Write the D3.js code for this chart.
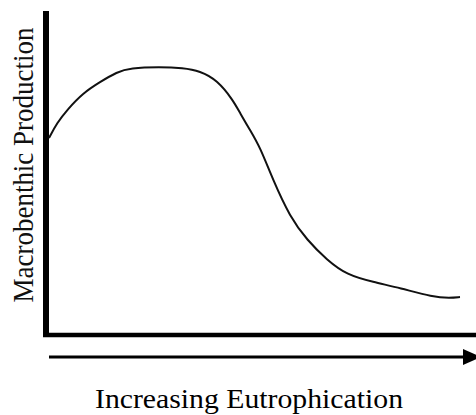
<!DOCTYPE html>
<html>
<head>
<meta charset="utf-8">
<script src="https://cdn.jsdelivr.net/npm/d3@7"></script>
<style>
html,body{margin:0;padding:0;background:#fff;}
svg{display:block;}
text{font-family:"Liberation Serif","Times New Roman",Times,serif;}
</style>
</head>
<body>
<svg id="chart" width="476" height="415"></svg>
<script>
// Eutrophication level (arbitrary units) and macrobenthic production (arbitrary units)
const eutrophication = [3, 11, 21, 37, 54, 71, 84, 114, 137, 154, 171, 187, 194, 204, 214, 227, 244, 261, 281, 301, 327, 354, 387, 404, 414];
const production     = [197, 212, 225, 242, 253, 263, 267, 268, 267, 264, 255, 235, 222, 205, 188, 155, 118, 95, 75, 60, 53, 47, 38, 37, 38];
const xTitle = "Increasing Eutrophication";
const yTitle = "Macrobenthic Production";

const svg = d3.select("#chart");
const x = d3.scaleLinear().domain([0, 430]).range([46, 476]);
const y = d3.scaleLinear().domain([0, 324]).range([335, 11]);

const data = eutrophication.map((v, i) => ({x: v, y: production[i]}));

// axes (plain lines, no ticks)
svg.append("line").attr("x1", x(0)).attr("x2", x(0)).attr("y1", y(324)).attr("y2", y(0) + 2)
  .attr("stroke", "#000").attr("stroke-width", 6);
svg.append("line").attr("x1", x(0) - 3).attr("x2", x(430)).attr("y1", y(0)).attr("y2", y(0))
  .attr("stroke", "#000").attr("stroke-width", 4.5);

// curve
const line = d3.line().x(d => x(d.x)).y(d => y(d.y)).curve(d3.curveBasis);
svg.append("path").datum(data).attr("d", line)
  .attr("fill", "none").attr("stroke", "#111").attr("stroke-width", 2);

// arrow
svg.append("line").attr("x1", 49).attr("x2", 465).attr("y1", 357).attr("y2", 357)
  .attr("stroke", "#000").attr("stroke-width", 3);
svg.append("path").attr("d", "M463,349 L481,357 L463,365 Z").attr("fill", "#000");

// titles
svg.append("text").attr("x", 249).attr("y", 408).attr("text-anchor", "middle")
  .attr("font-size", 27)
  .attr("textLength", 308).attr("lengthAdjust", "spacingAndGlyphs")
  .attr("fill", "#000").text(xTitle);
svg.append("text").attr("transform", "translate(33,165) scale(1.1,1) rotate(-90)")
  .attr("text-anchor", "middle")
  .attr("font-size", 27)
  .attr("textLength", 275).attr("lengthAdjust", "spacingAndGlyphs")
  .attr("fill", "#111").text(yTitle);
</script>
</body>
</html>
